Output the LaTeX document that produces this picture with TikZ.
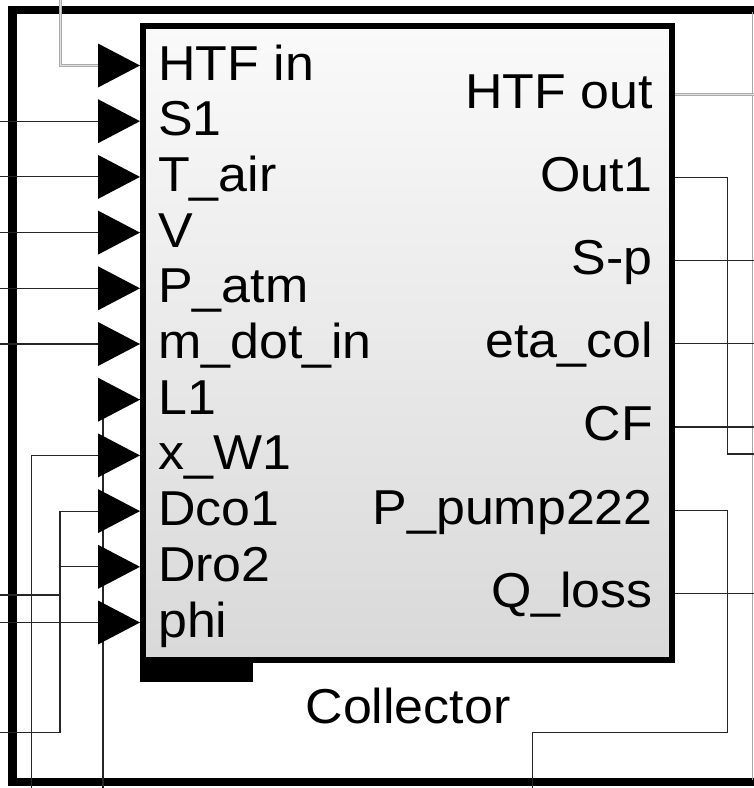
\documentclass[tikz,border=0pt]{standalone}
\usepackage{fontspec}
\setmainfont{Liberation Sans}[FakeStretch=1.06]
\usetikzlibrary{calc}
\begin{document}
\begin{tikzpicture}[x=1pt,y=-1pt,
  sig/.style={draw=black!85,line width=1.1pt},
  htf/.style={draw=gray!65,line width=3pt},
  htfc/.style={draw=gray!25,line width=0.9pt},
  lab/.style={inner sep=0pt,font=\fontsize{49}{55}\selectfont},
  blockbox/.style={draw=black,line width=6pt,top color=gray!4,bottom color=gray!30},
  portfill/.style={fill=black}]
\clip (0,0) rectangle (754,788);
\useasboundingbox (0,0) rectangle (754,788);
\coordinate (L) at (0,0);
\coordinate (R) at (754,0);
\coordinate (B) at (0,788);
% left ports
\foreach \n [count=\i from 0] in {a,b,c,d,e,f,g,h,i,j,k} {
  \pgfmathsetmacro\yy{65.5+55.7*\i}
  \coordinate (p\n) at (98,\yy);
  \coordinate (t\n) at (140,\yy);
}
% right ports
\foreach \n [count=\i from 0] in {a,b,c,d,e,f,g} {
  \pgfmathsetmacro\yy{94.3+83.17*\i}
  \coordinate (q\n) at (675,\yy);
}
\coordinate (vtop) at (60,0);
\coordinate (xL1) at (103,0);
\coordinate (xW1) at (31.7,0);
\coordinate (xD) at (60,0);
\coordinate (yD) at (0,732.7);
\coordinate (xy) at (0,595);
\coordinate (xR) at (727.7,0);
\coordinate (yO) at (0,454);
\coordinate (yP) at (0,732.7);
\coordinate (xP) at (532.7,0);
% outer frame
\draw[line width=8.5pt] (780,10) -- (12.5,10) -- (12.5,782) -- (780,782);
\draw[draw=gray!70,line width=1pt] (752.5,12) -- (752.5,780);
% left connectors
\draw[htf] (vtop) |- (pa);
\draw[htfc] (vtop) |- (pa);
\foreach \n in {b,c,d,e,f,k} \draw[sig] (p\n -| L) -- (p\n);
\draw[sig] (xL1 |- B) -- (xL1 |- pg) -- (tg);
\draw[sig] (ph) -- (ph -| xW1) -- (xW1 |- B);
\draw[sig] (pi) -- (pi -| xD) -- (xD |- yD) -- (yD);
\draw[sig] (xD |- pj) -- (pj);
\draw[sig] (xy) -- (xy -| xD);
% right connectors
\draw[htf] (qa) -- (qa -| R);
\draw[htfc] (qa) -- (qa -| R);
\draw[sig] (qb) -- (qb -| xR) -- (xR |- yO) -- (yO -| R);
\foreach \n in {c,d,e,g} \draw[sig] (q\n) -- (q\n -| R);
\draw[sig] (qf) -- (qf -| xR) -- (xR |- yP) -- (yP -| xP) -- (xP |- B);
% block
\fill (140,656) rectangle (253,682);
\path[blockbox] (143,26) rectangle (672,660);
\node[inner sep=0pt,minimum width=529pt,minimum height=634pt] (blk) at (407.5,343) {};
% triangles
\foreach \n in {a,b,c,d,e,f,g,h,i,j,k}
  \fill[portfill] ($(p\n)+(0,-22)$) -- (t\n) -- ($(p\n)+(0,22)$) -- cycle;
% labels
\foreach \n/\t [count=\i from 0] in {a/HTF in,b/S1,c/T\_air,d/V,e/P\_atm,f/m\_dot\_in,g/L1,h/x\_W1,i/Dco1,j/Dro2,k/phi}
  \node[lab,anchor=base west] (l\n) at ($(p\n)+(60,14.5)$) {\t};
\foreach \n/\t in {a/HTF out,b/Out1,c/S-p,d/eta\_col,e/CF,f/P\_pump222,g/Q\_loss}
  \node[lab,anchor=base east] (r\n) at ($(q\n)+(-22,14)$) {\t};
\node[lab,anchor=base] (name) at (408,723) {Collector};
\end{tikzpicture}
\end{document}
